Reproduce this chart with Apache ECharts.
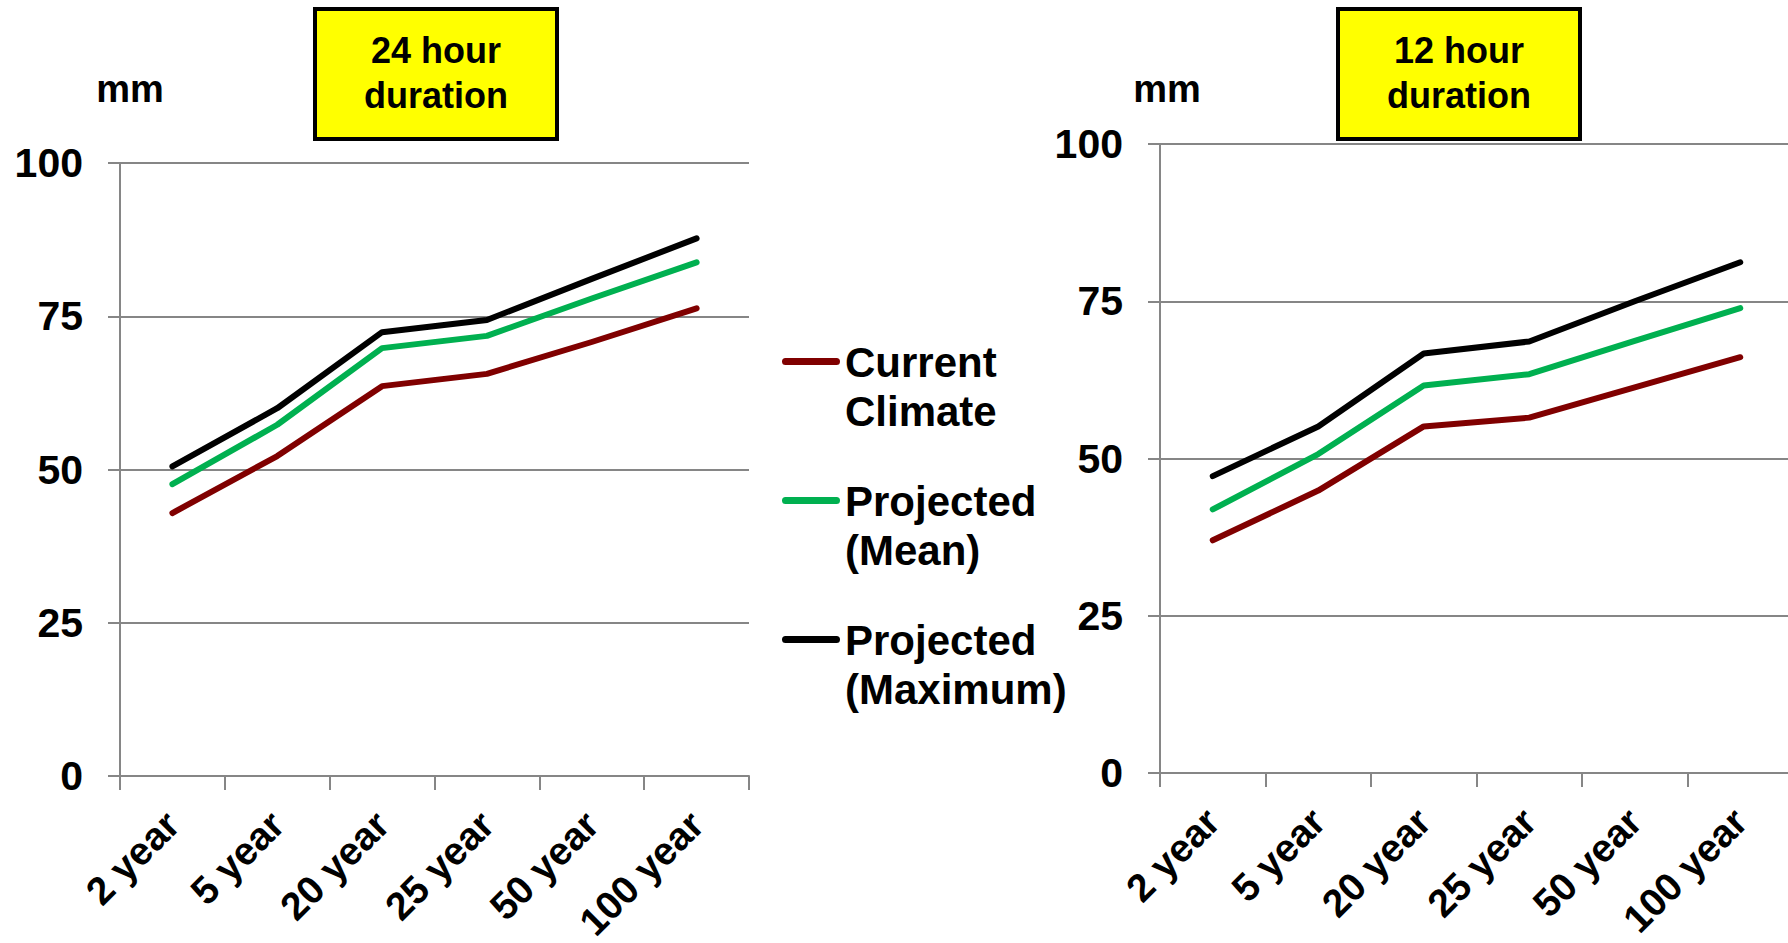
<!DOCTYPE html>
<html>
<head>
<meta charset="utf-8">
<script src="https://cdn.jsdelivr.net/npm/echarts@6/dist/echarts.min.js"></script>
<style>
html,body{margin:0;padding:0;background:#fff;}
#chart{width:1788px;height:943px;}
</style>
</head>
<body>
<div id="chart"></div>
<script>
const categories = ['2 year', '5 year', '20 year', '25 year', '50 year', '100 year'];
const yTicks = [0, 25, 50, 75, 100];
const seriesNames = ['Current Climate', 'Projected (Mean)', 'Projected (Maximum)'];
const current24 = [42.9, 52.2, 63.6, 65.6, 70.8, 76.3];
const mean24 = [47.6, 57.3, 69.8, 71.8, 77.9, 83.8];
const max24 = [50.5, 60.0, 72.4, 74.4, 81.1, 87.7];
const current12 = [37.0, 44.9, 55.1, 56.5, 61.3, 66.1];
const mean12 = [41.9, 50.7, 61.6, 63.4, 68.7, 73.9];
const max12 = [47.2, 55.1, 66.7, 68.6, 75.0, 81.2];
const titles = ['24 hour\nduration', '12 hour\nduration'];
const unitLabel = 'mm';

const FONT = "'Liberation Sans', Arial, sans-serif";
const colors = ['#800000', '#00B050', '#000000'];
const gridGray = '#868686';

function xAxis(gridIndex) {
  return {
    type: 'category', gridIndex: gridIndex, data: categories, boundaryGap: true,
    axisLine: {show: true, lineStyle: {color: gridGray, width: 2}},
    axisTick: {show: true, length: 14, alignWithLabel: false, interval: 0, lineStyle: {color: gridGray, width: 2}},
    axisLabel: {interval: 0, rotate: 45, margin: 42, color: '#000', fontFamily: FONT, fontWeight: 'bold', fontSize: 39}
  };
}
function yAxis(gridIndex, nameGap, namePad) {
  return {
    type: 'value', gridIndex: gridIndex, min: yTicks[0], max: yTicks[yTicks.length - 1], interval: 25,
    name: unitLabel, nameLocation: 'end', nameGap: nameGap,
    nameTextStyle: {color: '#000', fontFamily: FONT, fontWeight: 'bold', fontSize: 38, padding: [0, 0, 0, namePad]},
    axisLine: {show: true, lineStyle: {color: gridGray, width: 2}},
    axisTick: {show: true, length: 12, lineStyle: {color: gridGray, width: 2}},
    splitLine: {show: true, lineStyle: {color: gridGray, width: 2}},
    axisLabel: {margin: 37, color: '#000', fontFamily: FONT, fontWeight: 'bold', fontSize: 41}
  };
}
function lineSeries(name, data, idx, colorIdx) {
  return {
    type: 'line', name: name, data: data, xAxisIndex: idx, yAxisIndex: idx,
    symbol: 'none', smooth: false,
    itemStyle: {color: colors[colorIdx]},
    lineStyle: {color: colors[colorIdx], width: 6, cap: 'round', join: 'round'},
    emphasis: {disabled: true}
  };
}
function titleBox(x, text) {
  return {
    type: 'group', left: x, top: 7,
    children: [
      {type: 'rect', shape: {x: 0, y: 0, width: 242, height: 130},
       style: {fill: '#FFFF00', stroke: '#000', lineWidth: 4}},
      {type: 'text', x: 121, y: 64,
       style: {text: text, fill: '#000', font: "bold 36px " + FONT, lineHeight: 45,
               align: 'center', verticalAlign: 'middle'}}
    ]
  };
}

const legendIcon = 'path://M0,0h0.1v0.1h-0.1Z M3.5,20 H54.5 A3.5,3.5 0 0 1 54.5,27 H3.5 A3.5,3.5 0 0 1 3.5,20 Z M57.9,97.9h0.1v0.1h-0.1Z';

const chart = echarts.init(document.getElementById('chart'), null, {renderer: 'svg'});
chart.setOption({
  animation: false,
  backgroundColor: '#fff',
  grid: [
    {left: 120, top: 163, width: 629, height: 613, containLabel: false, outerBoundsMode: 'none'},
    {left: 1160, top: 144, width: 633, height: 629, containLabel: false, outerBoundsMode: 'none'}
  ],
  xAxis: [xAxis(0), xAxis(1)],
  yAxis: [yAxis(0, 55, 20), yAxis(1, 36, 14)],
  legend: {
    orient: 'vertical', left: 782, top: 338, padding: 0,
    data: seriesNames, icon: legendIcon, itemWidth: 58, itemHeight: 98, itemGap: 41,
    symbolKeepAspect: false,
    itemStyle: {borderWidth: 0},
    selectedMode: false,
    formatter: function (n) { return n.replace(' ', '\n'); },
    textStyle: {color: '#000', fontFamily: FONT, fontWeight: 'bold', fontSize: 42, lineHeight: 49}
  },
  graphic: [titleBox(313, titles[0]), titleBox(1336, titles[1])],
  series: [
    lineSeries(seriesNames[0], current24, 0, 0),
    lineSeries(seriesNames[1], mean24, 0, 1),
    lineSeries(seriesNames[2], max24, 0, 2),
    lineSeries(seriesNames[0], current12, 1, 0),
    lineSeries(seriesNames[1], mean12, 1, 1),
    lineSeries(seriesNames[2], max12, 1, 2)
  ]
});
</script>
</body>
</html>
